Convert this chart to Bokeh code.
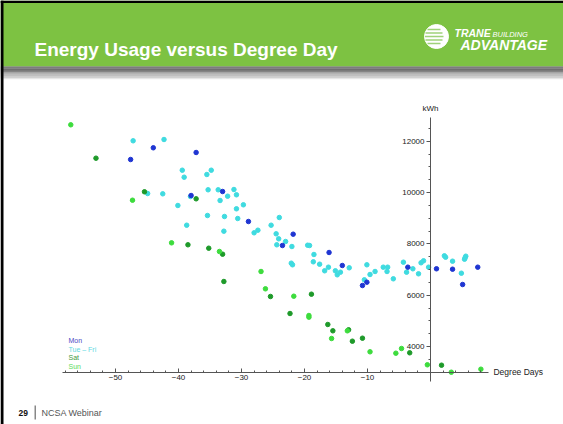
from bokeh.plotting import figure
from bokeh.models import LinearAxis, FixedTicker, Label, BoxAnnotation
from bokeh.embed import file_html
from bokeh.resources import INLINE

# ---------------- data (degree days, kWh) ----------------
mon_dd = [-44.0, -47.6, -37.2, -38.0, -33.0, -28.9, -23.5, -21.8, -16.1, -14.0,
          -10.8, -10.1, -3.6, 0.95, 3.5, 5.1, 7.5]
mon_kwh = [11743, 11287, 11560, 9884, 10040, 8871, 7936, 8377, 7664, 7157,
           6378, 6507, 7092, 7029, 7013, 6417, 7092]

tuefri_dd = [-47.2, -42.3, -44.9, -42.5, -39.4, -39.1, -35.5, -34.8, -38.1, -35.3,
             -33.7, -33.4, -32.2, -31.2, -30.8, -40.1, -35.4, -32.7, -30.8, -30.6,
             -29.7, -38.7, -32.8, -28.0, -27.4, -25.3, -24.0, -24.5, -24.1, -23.0,
             -24.4, -22.0, -19.5, -19.2, -18.5, -22.1, -21.9, -18.6, -17.6, -16.8,
             -16.2, -15.1, -14.8, -14.3, -12.9, -10.1, -9.6, -8.8, -10.5, -7.5,
             -6.8, -6.9, -5.9, -4.3, -3.8, -2.8, -1.9, -1.5, -1.1, -0.3,
             2.2, 2.4, 3.5, 4.9, 5.4, 5.6, 5.5]
tuefri_kwh = [12016, 12066, 9962, 9950, 10870, 10597, 10703, 10870, 9846, 10107,
              10107, 9690, 9857, 10118, 9912, 9495, 9105, 9066, 9366, 8988,
              9522, 8727, 8494, 8431, 8533, 8727, 9027, 8392, 8197, 8092,
              7964, 7897, 7948, 7936, 7586, 7247, 7185, 7301, 7208, 6951,
              7092, 6951, 6795, 6897, 7068, 7185, 6807, 6924, 6600, 7092,
              7092, 6924, 6639, 7286, 6897, 7029, 6834, 7263, 7341, 7092,
              7535, 7481, 7325, 6857, 7403, 7520, 7460]

sat_dd = [-53.1, -45.4, -37.2, -38.5, -35.2, -33.0, -32.8, -25.4, -18.9, -22.3,
          -16.3, -15.5, -13.0, -12.4, -10.8, -3.3, 1.75]
sat_kwh = [11338, 10029, 9756, 7964, 7831, 7598, 6534, 5950, 6039, 5287,
           4859, 4613, 4652, 4208, 4325, 3756, 3273]

sun_dd = [-57.1, -47.3, -41.1, -33.5, -26.9, -26.2, -21.7, -19.3, -19.3, -15.7,
          -13.2, -9.6, -5.5, -4.6, -0.5, 3.3, 8.0]
sun_kwh = [12639, 9701, 8040, 7703, 6924, 6249, 5961, 5209, 5144, 4313,
           4613, 3795, 3740, 3923, 3289, 3000, 3117]

series_names = ["Mon", "Tue \u2013 Fri", "Sat", "Sun"]
series_colors = ["#1f35d2", "#3fdbe0", "#1e9a2a", "#3ddc3d"]
legend_colors = ["#4a4ac4", "#5fd9e2", "#3f9a3f", "#5cdc5c"]

x_ticks = [-50, -40, -30, -20, -10]
x_tick_labels = ["\u221250", "\u221240", "\u221230", "\u221220", "\u221210"]
x_minor = [-58, -56, -54, -52, -48, -46, -44, -42, -38, -36, -34, -32, -28, -26,
           -24, -22, -18, -16, -14, -12, -8, -6, -4, -2, 2, 4, 6, 8]
y_ticks = [4000, 6000, 8000, 10000, 12000]
y_minor = [3500, 4500, 5000, 5500, 6500, 7000, 7500, 8500, 9000, 9500,
           10500, 11000, 11500, 12500]

title_text = "Energy Usage versus Degree Day"
x_label = "Degree Days"
y_label = "kWh"

# ---------------- layout helpers (page pixel -> data) ----------------
W, H = 563, 424
def dx(px):
    return (px - 430) / 6.3
def dy(py):
    return 12000 - (py - 140.7) * 38.96

p = figure(width=W, height=H,
           x_range=(dx(0), dx(W)), y_range=(dy(H), dy(0)),
           output_backend="svg", toolbar_location=None,
           x_axis_location=None, y_axis_location=None, min_border=0)
p.grid.visible = False
p.outline_line_color = None
p.background_fill_color = "white"
p.border_fill_color = "white"

FONT = "Liberation Sans"

def lab(px, py, text, color, size, style="normal", font=FONT, align="left"):
    p.add_layout(Label(x=dx(px), y=dy(py), text=text, text_color=color, text_font=font,
                       text_font_size=size, text_font_style=style, text_align=align,
                       text_baseline="middle"))

# ---------------- slide frame & header ----------------
p.add_layout(BoxAnnotation(left=dx(0), right=dx(W), top=dy(0), bottom=dy(66),
                           fill_color="#7dc242", fill_alpha=1, line_alpha=0, level="underlay"))
band = ["#5e5e5e", "#666666", "#6f6f6f", "#797979", "#848484", "#909090",
        "#9d9d9d", "#ababab", "#bcbcbc", "#d0d0d0", "#e6e6e6"]
for i, c in enumerate(band):
    p.add_layout(BoxAnnotation(left=dx(0), right=dx(W), top=dy(66 + i * 1.15),
                               bottom=dy(66 + (i + 1) * 1.15), fill_color=c, fill_alpha=1,
                               line_alpha=0, level="underlay"))
# black slide border (top and left)
p.add_layout(BoxAnnotation(left=dx(0), right=dx(W), top=dy(0), bottom=dy(2.5),
                           fill_color="black", fill_alpha=1, line_alpha=0))
p.add_layout(BoxAnnotation(left=dx(0), right=dx(3), top=dy(0), bottom=dy(H),
                           fill_color="black", fill_alpha=1, line_alpha=0))

lab(34, 48.5, title_text, "white", "19px", "bold")

# logo
p.scatter([dx(436)], [dy(36)], size=24, marker="circle", fill_color="white",
          line_color="white")
for yy, x0, x1 in [(29, 427, 440), (32.5, 425, 442), (36, 424.5, 443), (39.5, 425, 442), (43, 427, 440)]:
    p.segment([dx(x0)], [dy(yy)], [dx(x1)], [dy(yy)], line_color="#9fd27a", line_width=1.3)
lab(454, 32.5, "TRANE", "white", "10.5px", "bold italic")
lab(492, 34, "BUILDING", "white", "7.5px", "italic")
lab(460, 44, "ADVANTAGE", "white", "14px", "bold italic")

# ---------------- axes ----------------
xaxis = LinearAxis(fixed_location=3000, bounds=(-58.4, 9.2),
                   ticker=FixedTicker(ticks=x_ticks, minor_ticks=x_minor))
xaxis.major_label_overrides = {float(t): l for t, l in zip(x_ticks, x_tick_labels)}
xaxis.axis_line_color = "#555555"
xaxis.major_tick_line_color = "#555555"
xaxis.minor_tick_line_color = "#555555"
xaxis.major_tick_in = 4
xaxis.major_tick_out = 0
xaxis.minor_tick_in = 2
xaxis.minor_tick_out = 0
xaxis.major_label_standoff = 3
xaxis.major_label_text_font = FONT
xaxis.major_label_text_font_size = "8px"
xaxis.major_label_text_color = "#222222"
p.add_layout(xaxis, "below")

# a fixed_location of exactly 0 is treated as unset by BokehJS, so use a tiny offset
yaxis = LinearAxis(fixed_location=1e-6, bounds=(2650, 12930),
                   ticker=FixedTicker(ticks=y_ticks, minor_ticks=y_minor))
yaxis.axis_line_color = "#555555"
yaxis.major_tick_line_color = "#555555"
yaxis.minor_tick_line_color = "#555555"
yaxis.major_tick_in = 0
yaxis.major_tick_out = 4
yaxis.minor_tick_in = 0
yaxis.minor_tick_out = 2
yaxis.major_label_standoff = 2
yaxis.major_label_text_font = FONT
yaxis.major_label_text_font_size = "8px"
yaxis.major_label_text_color = "#222222"
p.add_layout(yaxis, "left")

p.add_layout(Label(x=0, y=12935, text=y_label, text_font=FONT, text_font_size="8px",
                   text_color="#222222", text_align="center", text_baseline="bottom", y_offset=4))
p.add_layout(Label(x=9.2, y=3000, text=x_label, text_font=FONT, text_font_size="8.5px",
                   text_color="#222222", text_align="left", text_baseline="middle", x_offset=5))

# ---------------- data points ----------------
for xs, ys, c in [(tuefri_dd, tuefri_kwh, series_colors[1]),
                  (mon_dd, mon_kwh, series_colors[0]),
                  (sat_dd, sat_kwh, series_colors[2]),
                  (sun_dd, sun_kwh, series_colors[3])]:
    p.scatter(xs, ys, size=4.5, marker="circle", fill_color=c, line_color=c)

# legend (text only)
for i, (name, c) in enumerate(zip(series_names, legend_colors)):
    lab(68, 340 + i * 8.6, name, c, "7px")

# ---------------- footer ----------------
lab(18, 412.5, "29", "#111111", "8.5px", "bold")
p.add_layout(BoxAnnotation(left=dx(34), right=dx(35.5), top=dy(405), bottom=dy(419),
                           fill_color="#888888", fill_alpha=1, line_alpha=0))
lab(41, 412.5, "NCSA Webinar", "#555555", "9px")

open("out.html", "w").write(file_html(p, INLINE))
